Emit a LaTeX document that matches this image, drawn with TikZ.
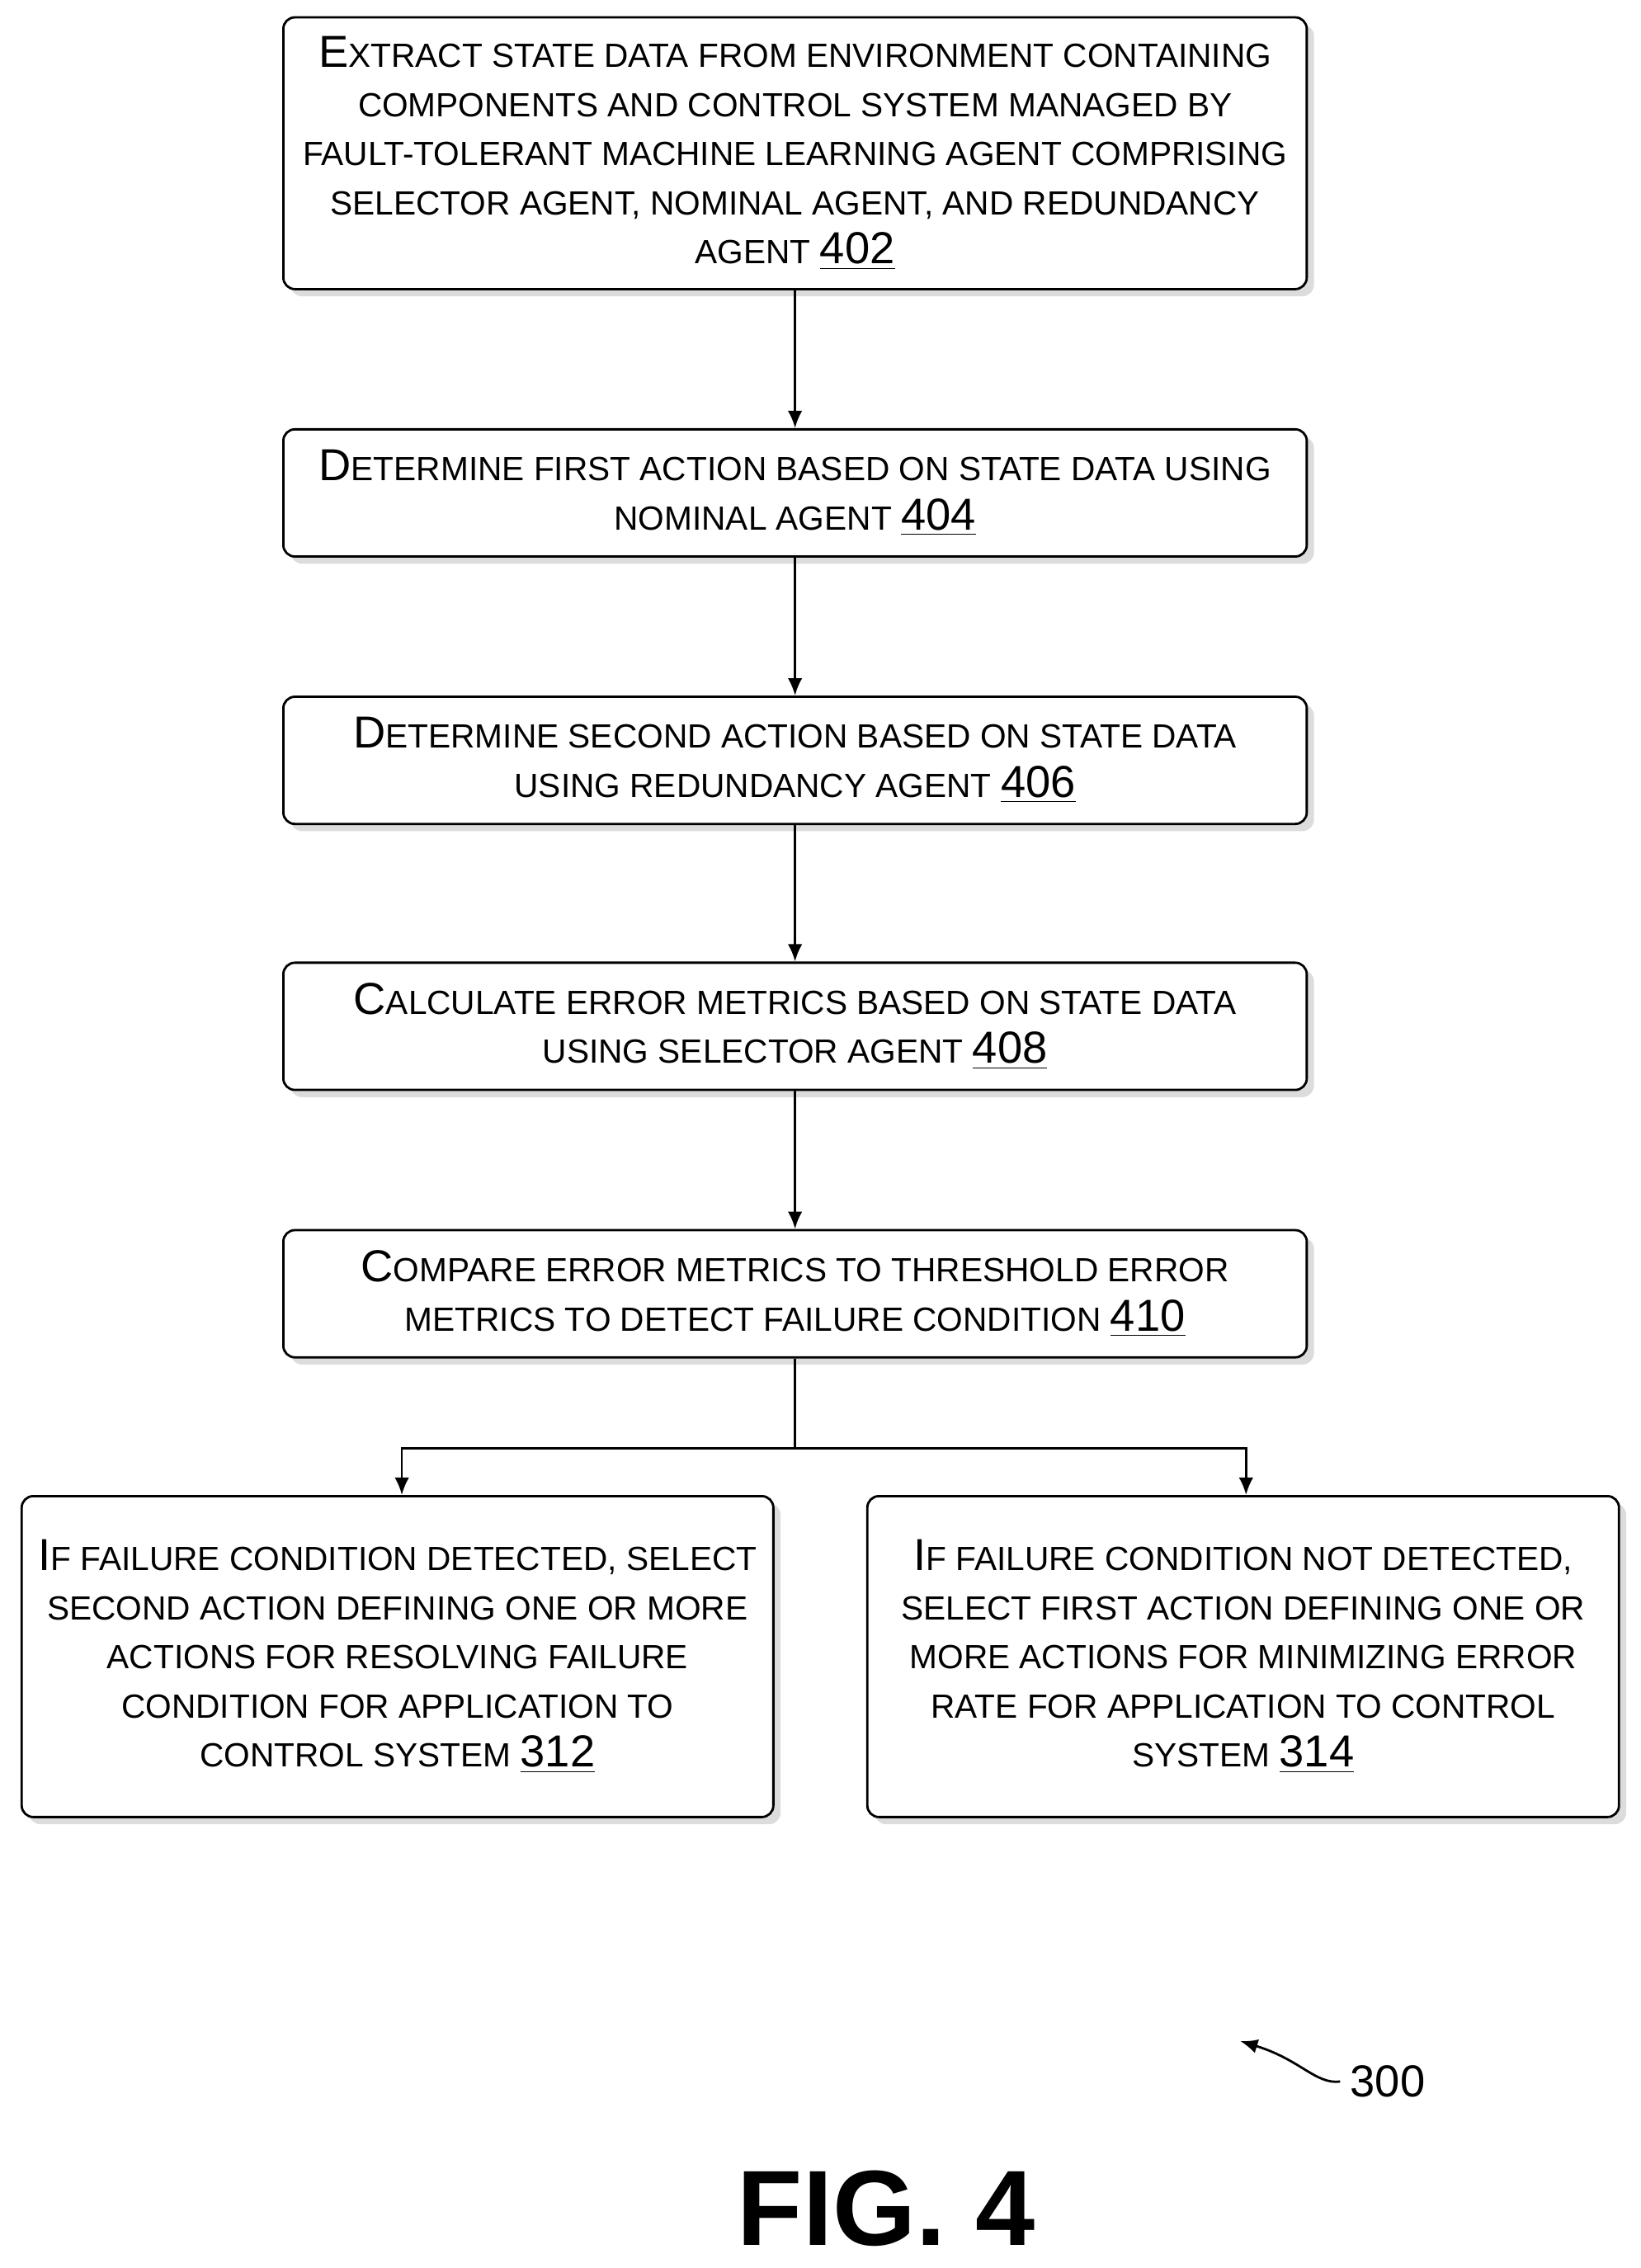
\documentclass[tikz,border=0pt]{standalone}
\usepackage{fontspec}
\setmainfont{Liberation Sans}
\usetikzlibrary{shadows,arrows.meta}
\tikzset{node:style/.style={draw,thick,rounded corners=4pt,fill=white,align=center,
	inner sep=2pt,font=\fontsize{11.6}{17}\selectfont,
	drop shadow={shadow xshift=2.5pt,shadow yshift=-2.5pt,fill=gray!55}}}
\tikzset{edge:style/.style={draw,thick,-{Latex[length=6pt,width=5pt]}}}
\def\bg#1{{\fontsize{15.5}{17}\selectfont #1}}
\def\num#1{{\fontsize{15.5}{17}\selectfont\underline{#1}}}
\def\myWide{354pt}
\def\myHigh{44pt}

\begin{document}
\begin{tikzpicture}[x=0.5pt,y=-0.5pt]
	\useasboundingbox (0,0) rectangle (1135,1569);
	
	\path (550,106) node[node:style,minimum width=\myWide,minimum height=94pt] (s402)
		{\bg{E}XTRACT STATE DATA FROM ENVIRONMENT CONTAINING\\
		COMPONENTS AND CONTROL SYSTEM MANAGED BY\\
		FAULT-TOLERANT MACHINE LEARNING AGENT COMPRISING\\
		SELECTOR AGENT, NOMINAL AGENT, AND REDUNDANCY\\
		AGENT \num{402}};
	\path (550,341) node[node:style,minimum width=\myWide,minimum height=\myHigh] (s404)
		{\bg{D}ETERMINE FIRST ACTION BASED ON STATE DATA USING\\
		NOMINAL AGENT \num{404}};
	\path (550,526) node[node:style,minimum width=\myWide,minimum height=\myHigh] (s406)
		{\bg{D}ETERMINE SECOND ACTION BASED ON STATE DATA\\
		USING REDUNDANCY AGENT \num{406}};
	\path (550,710) node[node:style,minimum width=\myWide,minimum height=\myHigh] (s408)
		{\bg{C}ALCULATE ERROR METRICS BASED ON STATE DATA\\
		USING SELECTOR AGENT \num{408}};
	\path (550,895) node[node:style,minimum width=\myWide,minimum height=\myHigh] (s410)
		{\bg{C}OMPARE ERROR METRICS TO THRESHOLD ERROR\\
		METRICS TO DETECT FAILURE CONDITION \num{410}};
	\path (275,1146) node[node:style,minimum width=260pt,minimum height=111pt] (s312)
		{\bg{I}F FAILURE CONDITION DETECTED, SELECT\\
		SECOND ACTION DEFINING ONE OR MORE\\
		ACTIONS FOR RESOLVING FAILURE\\
		CONDITION FOR APPLICATION TO\\
		CONTROL SYSTEM \num{312}};
	\path (860,1146) node[node:style,minimum width=260pt,minimum height=111pt] (s314)
		{\bg{I}F FAILURE CONDITION NOT DETECTED,\\
		SELECT FIRST ACTION DEFINING ONE OR\\
		MORE ACTIONS FOR MINIMIZING ERROR\\
		RATE FOR APPLICATION TO CONTROL\\
		SYSTEM \num{314}};
	
	\path (550,1002) coordinate (split);
	\path[edge:style] (s402) -- (s404);
	\path[edge:style] (s404) -- (s406);
	\path[edge:style] (s406) -- (s408);
	\path[edge:style] (s408) -- (s410);
	\draw[thick] (s410.south) -- (split);
	\path[edge:style] (split) -| (s312.north -| 278,0);
	\path[edge:style] (split) -| (s314.north -| 862,0);
	
	\path (960,1440) node[font=\fontsize{15.5}{17}\selectfont] (lbl300) {300};
	\draw[thick,-{Latex[length=6pt,width=5pt]}] (lbl300.west) .. controls (910,1442) and (900,1425) .. (858,1412);
	\path (613,1528) node[font=\fontsize{37}{42}\selectfont\bfseries] (fig) {FIG. 4};
\end{tikzpicture}
\end{document}
